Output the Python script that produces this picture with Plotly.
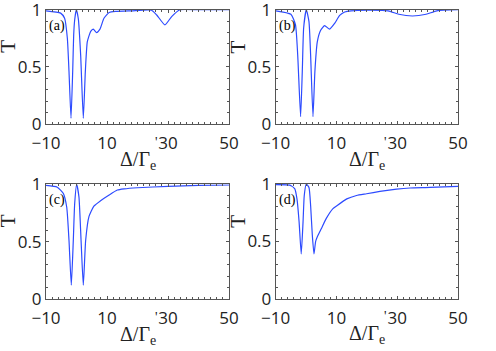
import plotly.graph_objects as go
from plotly.subplots import make_subplots

# transmission curves
x_a = [-10, -5.2, -3.9, -3.0, -2.46, -1.8, -1.25, -0.92, -0.6, -0.06, 0.6, 1.37, 2.23, 2.9, 3.55,
       4.65, 5.5, 6.6, 7.7, 9.0, 10.7, 12.8, 18, 24.6, 26.3, 29.0, 31.2, 33.9, 40, 50]
t_a = [0.99, 0.97, 0.925, 0.75, 0.46, 0.05, 0.46, 0.78, 0.91, 1.0, 0.92, 0.60, 0.05, 0.46, 0.72,
       0.81, 0.83, 0.80, 0.83, 0.925, 0.975, 0.985, 0.99, 0.995, 0.954, 0.867, 0.94, 1.0, 1.0, 1.0]

x_b = [-10, -5.0, -3.5, -2.75, -1.8, -1.25, -0.8, 0.07, 0.95, 1.5, 2.27, 2.9, 3.7, 4.8, 6.1,
       7.75, 9.4, 11.05, 12.7, 14.8, 20, 27.0, 30.5, 35.0, 39.5, 43.0, 50]
t_b = [0.99, 0.96, 0.87, 0.60, 0.065, 0.46, 0.84, 1.0, 0.895, 0.60, 0.065, 0.46, 0.72, 0.82, 0.86,
       0.83, 0.88, 0.95, 0.98, 0.99, 0.995, 0.99, 0.96, 0.945, 0.96, 0.99, 1.0]

x_c = [-10, -6.3, -4.3, -3.2, -2.46, -1.7, -1.05, -0.6, 0.06, 0.8, 1.5, 2.23, 3.0, 4.1, 5.7,
       7.9, 10.7, 13.4, 15.6, 20, 30, 40, 50]
t_c = [0.99, 0.975, 0.92, 0.80, 0.51, 0.12, 0.51, 0.83, 1.0, 0.89, 0.51, 0.12, 0.51, 0.72, 0.81,
       0.857, 0.907, 0.95, 0.96, 0.97, 0.982, 0.99, 0.994]

x_d = [-10, -5.4, -3.75, -3.0, -2.3, -1.6, -1.0, -0.6, 0.07, 0.95, 1.5, 2.05, 2.6, 3.15, 3.7,
       5.0, 6.65, 8.85, 10.1, 13.4, 16.6, 19.9, 24.3, 29.8, 34.2, 40.8, 50]
t_d = [0.995, 0.99, 0.96, 0.87, 0.67, 0.39, 0.67, 0.90, 1.0, 0.97, 0.81, 0.555, 0.39, 0.50, 0.54,
       0.61, 0.70, 0.785, 0.81, 0.87, 0.90, 0.915, 0.935, 0.955, 0.965, 0.97, 0.98]

panels = [("(a)", x_a, t_a), ("(b)", x_b, t_b), ("(c)", x_c, t_c), ("(d)", x_d, t_d)]
x_ticks = [-10, 10, 30, 50]
y_ticks = [0, 0.5, 1]

W, H = 496, 351
# panel boxes in pixels: left, right, top, bottom
boxes = [(46, 229, 9.7, 124), (275.7, 458, 9.7, 124),
         (46, 229, 184.3, 299), (275.7, 458, 184, 298.7)]

fig = make_subplots(rows=2, cols=2)
serif = "Liberation Serif, Times New Roman, serif"
frame = "#555555"

for i, (lab, xs, ts) in enumerate(panels):
    r, c = i // 2 + 1, i % 2 + 1
    fig.add_trace(go.Scatter(x=xs, y=ts, mode="lines",
                             line=dict(color="rgb(45,75,255)", width=1.2, shape="spline", smoothing=0.5),
                             showlegend=False), row=r, col=c)
    l, rr, t, b = boxes[i]
    ax = dict(showline=True, linecolor=frame, linewidth=1, mirror="allticks", automargin=False,
              ticks="inside", ticklen=3, tickcolor=frame, showgrid=False, zeroline=False,
              ticklabeloverflow="allow",
              tickfont=dict(family="Open Sans", size=17, color="#222"))
    fig.update_xaxes(ax, range=[-10, 50], tickvals=x_ticks, ticklabelstandoff=4,
                     domain=[l / W, rr / W],
                     minor=dict(dtick=2, tick0=-10, ticks="inside", ticklen=2, tickcolor=frame),
                     row=r, col=c)
    fig.update_yaxes(ax, range=[0, 1], tickvals=y_ticks, ticktext=["0", "0.5", "1"],
                     domain=[1 - b / H, 1 - t / H],
                     minor=dict(dtick=0.1, tick0=0, ticks="inside", ticklen=2, tickcolor=frame),
                     row=r, col=c)
    xr = "x" if i == 0 else f"x{i + 1}"
    yr = "y" if i == 0 else f"y{i + 1}"
    # panel letter
    fig.add_annotation(x=-9.6, y=0.86, xref=xr, yref=yr, text=lab, showarrow=False,
                       xanchor="left", yanchor="middle", font=dict(family=serif, size=14, color="black"))
    # x title
    cx = (l + rr) / 2
    fig.add_annotation(x=cx / W, y=1 - (b + 36) / H, xref="paper", yref="paper",
                       text="Δ/Γ<sub>e</sub>", showarrow=False, xanchor="center", yanchor="middle",
                       font=dict(family=serif, size=20, color="#222"))
    fig.add_annotation(x=(l + 110) / W, y=1 - (b + 18) / H, xref="paper", yref="paper",
                       text="'", showarrow=False, xanchor="center", yanchor="middle",
                       font=dict(family=serif, size=14, color="#222"))
    # y title
    fig.add_annotation(x=(l - 38) / W, y=1 - (t + 37) / H, xref="paper", yref="paper",
                       text="T", textangle=-90, showarrow=False, xanchor="center", yanchor="middle",
                       font=dict(family=serif, size=21, color="#222"))

fig.update_layout(width=W, height=H, margin=dict(l=0, r=0, t=0, b=0, autoexpand=False),
                  plot_bgcolor="white", paper_bgcolor="white")
# drop the page's default body margin so the figure sits at the window corner
fig.write_html("out.html", config={"displayModeBar": False},
               post_script="document.body.style.margin='0';")
